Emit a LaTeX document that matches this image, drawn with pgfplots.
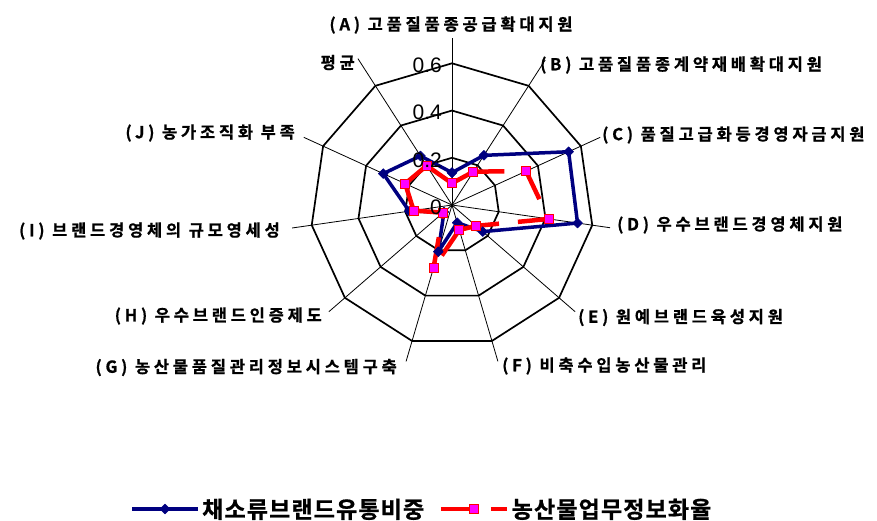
\documentclass[border=0pt]{standalone}
\usepackage{pgfplots}
\pgfplotsset{compat=1.18}
\usepgfplotslibrary{polar}
\usepackage{fontspec}
\setmainfont{Liberation Sans}
\newfontfamily\krb{Noto Sans CJK KR Bold}[LetterSpace=23, FakeBold=0.8]
\newfontfamily\krl{Noto Sans CJK KR Bold}[LetterSpace=5, FakeBold=0.8]
\definecolor{navyb}{RGB}{0,0,128}
\definecolor{mag}{RGB}{255,0,255}
\begin{document}
\begin{tikzpicture}
\begin{polaraxis}[
  at={(0pt,0pt)}, anchor=center,
  scale only axis, width=283.4pt, height=283.4pt,
  ymin=0, ymax=0.6, xmin=0, xmax=360,
  hide axis, clip=false,
  xtick=\empty, ytick=\empty,
  unbounded coords=jump,
  legend columns=2,
  legend style={draw=none, fill=none, at={(-0.636,-0.5727)}, anchor=west,
    font=\fontsize{23}{26}\selectfont\krl, inner sep=0pt,
    nodes={inner xsep=2.5pt},
    /tikz/every even column/.append style={column sep=12pt}},
  legend image code/.code={\draw[mark repeat=2,mark phase=2,#1] plot coordinates {(0pt,0pt) (33pt,0pt) (66pt,0pt)};},
]
% rings
\addplot[forget plot, black, line width=1.7pt, mark=none, line join=miter] coordinates {(90,0.2) (57.2727,0.2) (24.5455,0.2) (351.8182,0.2) (319.0909,0.2) (286.3636,0.2) (253.6364,0.2) (220.9091,0.2) (188.1818,0.2) (155.4545,0.2) (122.7273,0.2) (90,0.2) (57.2727,0.2)};
\addplot[forget plot, black, line width=1.7pt, mark=none, line join=miter] coordinates {(90,0.4) (57.2727,0.4) (24.5455,0.4) (351.8182,0.4) (319.0909,0.4) (286.3636,0.4) (253.6364,0.4) (220.9091,0.4) (188.1818,0.4) (155.4545,0.4) (122.7273,0.4) (90,0.4) (57.2727,0.4)};
\addplot[forget plot, black, line width=1.7pt, mark=none, line join=miter] coordinates {(90,0.6) (57.2727,0.6) (24.5455,0.6) (351.8182,0.6) (319.0909,0.6) (286.3636,0.6) (253.6364,0.6) (220.9091,0.6) (188.1818,0.6) (155.4545,0.6) (122.7273,0.6) (90,0.6) (57.2727,0.6)};
% spokes
\addplot[forget plot, black, line width=0.8pt, mark=none] coordinates {(90,0) (90,0.707)};
\addplot[forget plot, black, line width=0.8pt, mark=none] coordinates {(57.2727,0) (57.2727,0.73)};
\addplot[forget plot, black, line width=0.8pt, mark=none] coordinates {(24.5455,0) (24.5455,0.69)};
\addplot[forget plot, black, line width=0.8pt, mark=none] coordinates {(351.8182,0) (351.8182,0.676)};
\addplot[forget plot, black, line width=0.8pt, mark=none] coordinates {(319.0909,0) (319.0909,0.69)};
\addplot[forget plot, black, line width=0.8pt, mark=none] coordinates {(286.3636,0) (286.3636,0.69)};
\addplot[forget plot, black, line width=0.8pt, mark=none] coordinates {(253.6364,0) (253.6364,0.69)};
\addplot[forget plot, black, line width=0.8pt, mark=none] coordinates {(220.9091,0) (220.9091,0.69)};
\addplot[forget plot, black, line width=0.8pt, mark=none] coordinates {(188.1818,0) (188.1818,0.684)};
\addplot[forget plot, black, line width=0.8pt, mark=none] coordinates {(155.4545,0) (155.4545,0.69)};
\addplot[forget plot, black, line width=0.8pt, mark=none] coordinates {(122.7273,0) (122.7273,0.737)};
% series 1: 채소류브랜드유통비중
\addplot[navyb, line width=3.5pt, line join=round, mark=square*, mark size=3.5pt,
  mark options={solid, rotate=45, fill=navyb, draw=navyb, line width=0.5pt}]
  coordinates {(90,0.137) (57.2727,0.25) (24.5455,0.543) (351.8182,0.537) (319.0909,0.172) (286.3636,0.078) (253.6364,0.206) (220.9091,0.045) (188.1818,0.183) (155.4545,0.32) (122.7273,0.247) (90,0.137)};
\addlegendentry{채소류브랜드유통비중}
% series 2: 농산물업무정보화율 (dash restarts at every category)
\addplot[red, line width=4.5pt, dash pattern=on 31pt off 19pt, mark=square*, mark size=4.5pt,
  mark options={solid, fill=mag, draw=red, line width=1pt}]
  coordinates {(90,0.092) (57.2727,0.168) (nan,nan)
  (57.2727,0.168) (24.5455,0.345) (nan,nan)
  (24.5455,0.345) (351.8182,0.414) (nan,nan)
  (351.8182,0.414) (319.0909,0.135) (nan,nan)
  (319.0909,0.135) (286.3636,0.110) (nan,nan)
  (286.3636,0.110) (253.6364,0.277) (nan,nan)
  (253.6364,0.277) (220.9091,0.050) (nan,nan)
  (220.9091,0.050) (188.1818,0.164) (nan,nan)
  (188.1818,0.164) (155.4545,0.218) (nan,nan)
  (155.4545,0.218) (122.7273,0.198) (nan,nan)
  (122.7273,0.198) (90,0.092)};
\addlegendentry{농산물업무정보화율}
\end{polaraxis}
% radial tick labels
\begin{scope}[every node/.style={inner sep=0pt, anchor=east, font=\fontsize{21}{21}\selectfont}]
\node at (-10pt,-2pt) {0};
\node at (-10pt,45.2pt) {0.2};
\node at (-10pt,92.4pt) {0.4};
\node at (-10pt,139.7pt) {0.6};
\end{scope}
% category labels
\begin{scope}[every node/.style={inner sep=0pt, font=\fontsize{16.5}{18}\selectfont\krb}]
\node[anchor=center] at (-1pt,180pt) {(A) 고품질품종공급확대지원};
\node[anchor=west] at (88pt,140pt) {(B) 고품질품종계약재배확대지원};
\node[anchor=west] at (150pt,70pt) {(C) 품질고급화등경영자금지원};
\node[anchor=west] at (165pt,-20pt) {(D) 우수브랜드경영체지원};
\node[anchor=west] at (126pt,-112.5pt) {(E) 원예브랜드육성지원};
\node[anchor=west] at (50pt,-161pt) {(F) 비축수입농산물관리};
\node[anchor=east] at (-55pt,-162.5pt) {(G) 농산물품질관리정보시스템구축};
\node[anchor=east] at (-130pt,-111pt) {(H) 우수브랜드인증제도};
\node[anchor=east] at (-172pt,-26pt) {(I) 브랜드경영체의 규모영세성};
\node[anchor=east] at (-157pt,72pt) {(J) 농가조직화 부족};
\node[anchor=east] at (-97pt,142.5pt) {평균};
\end{scope}
\pgfresetboundingbox
\path[use as bounding box] (-452pt,-315pt) rectangle (425pt,205pt);
\end{tikzpicture}
\end{document}
